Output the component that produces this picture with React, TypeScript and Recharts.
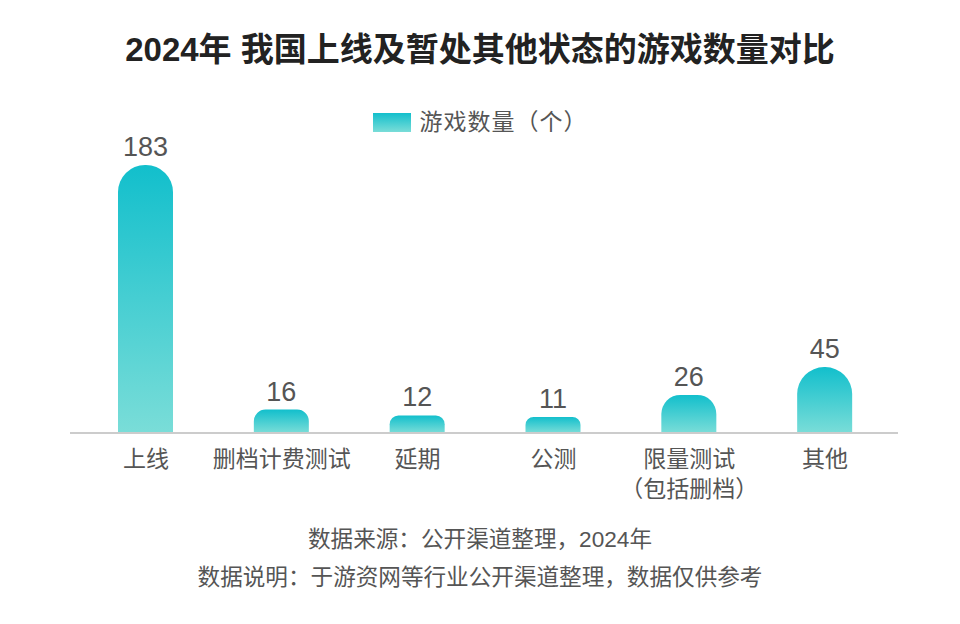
import { BarChart, Bar, XAxis, YAxis, Legend, LabelList, Cell } from "recharts";

const categories = ["上线", "删档计费测试", "延期", "公测", "限量测试（包括删档）", "其他"];
const gameCounts = [183, 16, 12, 11, 26, 45];
const seriesName = "游戏数量（个）";
const title = "2024年 我国上线及暂处其他状态的游戏数量对比";
const notes = ["数据来源：公开渠道整理，2024年", "数据说明：于游资网等行业公开渠道整理，数据仅供参考"];

const FONT = '"Liberation Sans", "Noto Sans CJK SC", sans-serif';

const chartData = categories.map((name, i) => ({ name, value: gameCounts[i] }));

const CategoryTick = ({ x, y, payload }: any) => {
  const label: string = payload.value;
  const cut = label.indexOf("（");
  const lines = cut > 0 ? [label.slice(0, cut), label.slice(cut)] : [label];
  return (
    <text x={x} y={y} textAnchor="middle" fill="#555" fontSize={23} fontFamily={FONT}>
      {lines.map((line, i) => (
        <tspan key={i} x={x} dy={i === 0 ? 34 : 30}>
          {line}
        </tspan>
      ))}
    </text>
  );
};

const LegendContent = () => (
  <div
    style={{
      display: "flex",
      justifyContent: "center",
      alignItems: "center",
      fontFamily: FONT,
      fontSize: 23,
      lineHeight: "28px",
      color: "#555",
    }}
  >
    <span
      style={{
        display: "inline-block",
        width: 38,
        height: 19,
        marginRight: 9,
        background: "linear-gradient(#12bfcc, #7addd8)",
      }}
    />
    <span style={{ letterSpacing: 1 }}>{seriesName}</span>
  </div>
);

export default function App() {
  return (
    <div style={{ position: "absolute", left: 0, top: 0, width: 960, height: 624, background: "#fff" }}>
      <div
        style={{
          position: "absolute",
          top: 30,
          left: 0,
          width: 960,
          textAlign: "center",
          fontFamily: FONT,
          fontWeight: "bold",
          fontSize: 33,
          lineHeight: "40px",
          color: "#222",
        }}
      >
        {title}
      </div>
      <BarChart
        width={960}
        height={624}
        data={chartData}
        margin={{ top: 137, right: 62, bottom: 131, left: 70 }}
        style={{ position: "absolute", left: 0, top: 0 }}
      >
        <defs>
          <linearGradient id="barGrad" x1="0" y1="0" x2="0" y2="1">
            <stop offset="0%" stopColor="#12bfcc" />
            <stop offset="100%" stopColor="#7addd8" />
          </linearGradient>
        </defs>
        <XAxis
          dataKey="name"
          height={60}
          interval={0}
          padding={{ left: 8, right: 5 }}
          tickLine={false}
          tickSize={0}
          tickMargin={0}
          axisLine={{ stroke: "#cccccc", strokeWidth: 2 }}
          tick={<CategoryTick />}
        />
        <YAxis hide domain={[0, 183]} />
        <Legend
          verticalAlign="top"
          height={28}
          content={<LegendContent />}
          wrapperStyle={{ top: 108, left: 0, width: 960 }}
        />
        <Bar dataKey="value" name={seriesName} barSize={55} radius={[27, 27, 0, 0]} isAnimationActive={false}>
          {chartData.map((entry) => (
            <Cell key={entry.name} fill="url(#barGrad)" />
          ))}
          <LabelList dataKey="value" position="top" offset={9} fill="#555" fontSize={27} fontFamily={FONT} />
        </Bar>
      </BarChart>
      <div
        style={{
          position: "absolute",
          top: 521,
          left: 0,
          width: 960,
          textAlign: "center",
          fontFamily: FONT,
          fontSize: 22.6,
          lineHeight: "38px",
          color: "#555",
        }}
      >
        {notes.map((n) => (
          <div key={n}>{n}</div>
        ))}
      </div>
    </div>
  );
}
